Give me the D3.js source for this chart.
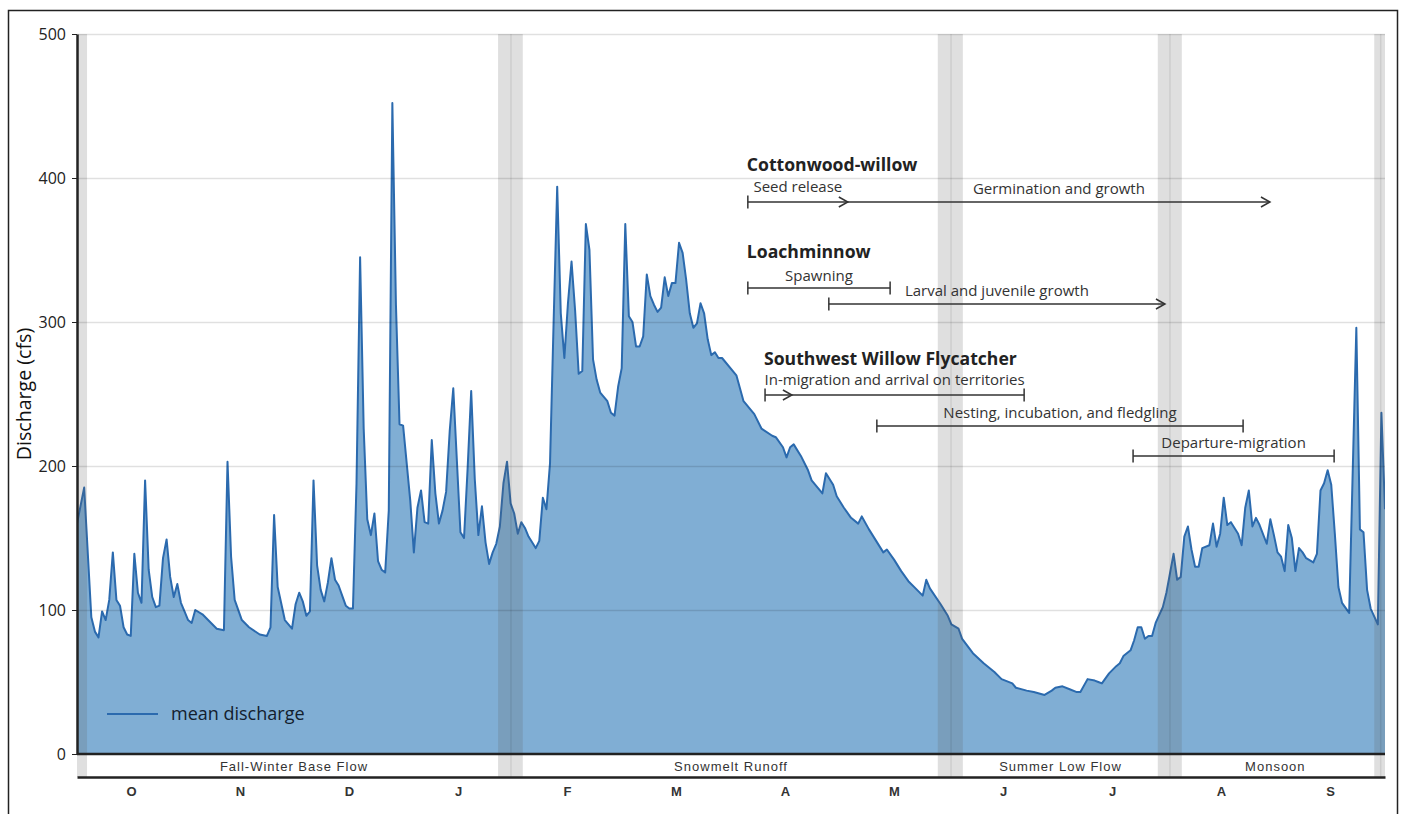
<!DOCTYPE html>
<html>
<head>
<meta charset="utf-8">
<script src="https://cdn.jsdelivr.net/npm/d3@7"></script>
<style>
  body { margin: 0; background: #fff; }
  svg { display: block; font-family: 'Open Sans', sans-serif; }
  .axis--y path, .axis--y line { stroke: #222; }
  .axis--y path { stroke-width: 2.5; }
  .axis--y text { font-size: 16px; fill: #222; font-family: 'Open Sans', sans-serif; }
  .axis--month path { stroke: #222; stroke-width: 2.5; }
  .axis--month text { font-family: 'Liberation Sans', Arial, sans-serif; font-weight: bold; font-size: 13px; fill: #333; }
  .grid line { stroke: rgba(0, 0, 0, 0.12); stroke-width: 1.5; }
  .grid path { display: none; }
  .season { font-family: 'Liberation Sans', Arial, sans-serif; font-size: 13px; letter-spacing: 1px; fill: #333; }
  .species { font-size: 17.6px; font-weight: bold; fill: #222; }
  .phase-label { font-size: 15px; fill: #333; }
  .phase line, .phase path { stroke: #333; stroke-width: 1.5; fill: none; }
</style>
</head>
<body>
<svg width="1401" height="814"></svg>
<script>
// day of the water year (0 = Oct 1) and mean daily discharge (cfs)
const DAYS = [
  0, 2, 4, 5, 6, 7, 8, 9, 10, 11, 12, 13, 14, 15, 16, 17, 18, 19, 20, 21, 22, 23, 24, 25, 26, 27, 28, 29, 30,
  31, 32, 33, 35, 37, 39, 41, 42, 43, 44, 46, 48, 51, 53, 54, 55, 56, 58, 60,
  61, 62, 63, 64, 65, 66, 67, 68, 69, 70, 71, 72, 73, 74, 75, 76, 77, 78, 79, 80, 81, 82, 83, 84, 85, 86, 87, 88, 89, 90, 91,
  93, 94, 95, 96, 97, 98, 99, 100, 101, 102, 103, 104, 105, 106, 107, 108, 109, 110, 111, 112, 113, 114, 115, 116, 117, 118, 119, 120, 121, 122,
  123, 124, 125, 126, 128, 129, 130, 131, 132, 133, 134, 135, 136, 137, 138, 139, 140, 141, 142, 143, 144, 145, 146, 148, 149, 150,
  151, 152, 153, 154, 155, 156, 157, 158, 159, 160, 161, 162, 163, 164, 165, 166, 167, 168, 169, 170, 171, 172, 173, 174, 175, 176, 177, 178, 179, 180,
  184, 186, 189, 191, 194, 195, 197, 198, 199, 200, 202, 204, 205, 208, 209, 211,
  212, 214, 216, 218, 219, 221, 223, 225, 226, 228, 230, 232, 234, 236, 237, 238, 241, 243, 244, 246, 247, 250, 253, 256, 258, 261, 262, 265, 267, 270, 272,
  273, 275, 277, 279, 280, 282, 284, 285, 286, 288, 290, 291, 292, 294, 295, 296, 297, 298, 299, 300, 301, 303,
  304, 306, 307, 308, 309, 310, 311, 312, 313, 314, 316, 317, 318, 319, 320, 321, 322, 323, 324, 325, 326, 327, 328, 329, 330, 332, 333, 334,
  335, 336, 337, 338, 339, 340, 341, 342, 343, 345, 346, 347, 348, 349, 350, 351, 352, 353, 355, 357, 358, 359, 360, 361, 363, 364, 365
];
const DISCHARGE = [
  160, 185, 95, 85, 81, 99, 93, 107, 140, 107, 103, 88, 83, 82, 139, 112, 105, 190, 128, 109, 102, 103, 136, 149, 123, 109, 118, 105, 99,
  93, 91, 100, 97, 92, 87, 86, 203, 137, 107, 93, 88, 83, 82, 88, 166, 116, 93, 87,
  104, 112, 106, 96, 99, 190, 131, 114, 106, 119, 136, 121, 117, 110, 103, 101, 101, 188, 345, 226, 163, 152, 167, 134, 128, 126, 169, 452, 312, 229, 228,
  176, 140, 171, 183, 161, 160, 218, 181, 160, 169, 182, 224, 254, 204, 154, 150, 198, 252, 191, 152, 172, 147, 132, 140, 146, 158, 188, 203, 174, 167,
  153, 161, 157, 151, 143, 148, 178, 170, 202, 300, 394, 306, 275, 313, 342, 308, 264, 266, 368, 350, 274, 260, 251, 245, 237, 235,
  255, 268, 368, 304, 300, 283, 283, 290, 333, 318, 312, 307, 310, 331, 318, 327, 327, 355, 348, 329, 306, 296, 299, 313, 306, 288, 277, 279, 275, 275,
  263, 245, 236, 226, 221, 220, 213, 206, 213, 215, 207, 197, 190, 181, 195, 187,
  179, 171, 164, 160, 165, 156, 148, 140, 142, 135, 127, 120, 115, 110, 121, 115, 104, 96, 90, 87, 80, 70, 63, 57, 52, 49, 46, 44, 43, 41, 44,
  46, 47, 45, 43, 43, 52, 51, 50, 49, 56, 61, 63, 68, 72, 79, 88, 88, 80, 82, 82, 91, 102,
  112, 139, 121, 123, 151, 158, 142, 130, 130, 143, 145, 160, 144, 153, 178, 159, 161, 157, 153, 145, 171, 183, 158, 164, 159, 146, 163, 152,
  140, 137, 127, 159, 150, 127, 143, 140, 136, 133, 139, 183, 188, 197, 187, 153, 116, 105, 98, 296, 156, 154, 114, 101, 90, 237, 170
];

const Y_TICKS = [0, 100, 200, 300, 400, 500];
const MONTH_LABELS = ['O', 'N', 'D', 'J', 'F', 'M', 'A', 'M', 'J', 'J', 'A', 'S'];

const SEASONS = ['Fall-Winter Base Flow', 'Snowmelt Runoff', 'Summer Low Flow', 'Monsoon'];
const SEASON_BOUNDS = [0, 121.1, 243.9, 305, 363.8];
// shaded transition periods [start day, end day]
const TRANSITIONS = [[0, 2.8], [117.5, 124.4], [240.2, 247.2], [301.6, 308.3], [362, 365]];

const SPECIES = ['Cottonwood-willow', 'Loachminnow', 'Southwest Willow Flycatcher'];
const PHASE_LABELS = ['Seed release', 'Germination and growth', 'Spawning', 'Larval and juvenile growth',
  'In-migration and arrival on territories', 'Nesting, incubation, and fledgling', 'Departure-migration'];
const PHASE_SPECIES = [0, 0, 1, 1, 2, 2, 2];
const PHASE_START = [187.2, 215.1, 187.2, 209.8, 192, 223.2, 294.7];
const PHASE_END = [215.1, 332.9, 226.9, 303.6, 264.3, 325.4, 350.8];
const PHASE_START_CAP = ['bar', 'none', 'bar', 'bar', 'bar', 'bar', 'bar'];
const PHASE_END_CAP = ['arrow', 'arrow', 'bar', 'arrow', 'bar', 'bar', 'bar'];
const PHASE_ARRIVAL = [null, null, null, null, 199.5, null, null];

const margin = {top: 34, right: 16, bottom: 60, left: 77};
const svg = d3.select('svg');
const width = +svg.attr('width') - margin.left - margin.right;
const height = 754 - margin.top;
const seasonRow = 23;
const g = svg.append('g').attr('transform', 'translate(' + margin.left + ',' + margin.top + ')');

const x = d3.scaleLinear().domain([0, 365]).range([0, width]);
const xMonth = d3.scaleBand().domain(d3.range(12)).range([0, width]);
const y = d3.scaleLinear().domain([0, 500]).range([height, 0]);

const series = DAYS.map((d, i) => ({day: d, value: DISCHARGE[i]}));

// frame
svg.append('rect')
  .attr('x', 8.5).attr('y', 10.5).attr('width', 1389).attr('height', 820)
  .attr('fill', 'none').attr('stroke', '#222').attr('stroke-width', 1.5);

g.append('clipPath').attr('id', 'plot-clip')
  .append('rect').attr('width', width).attr('height', height + seasonRow);

// discharge area + line
const plot = g.append('g').attr('clip-path', 'url(#plot-clip)');
plot.append('path')
  .datum(series)
  .attr('fill', '#80aed4')
  .attr('d', d3.area().x(d => x(d.day)).y0(y(0)).y1(d => y(d.value)));

g.append('g')
  .attr('class', 'grid')
  .call(d3.axisLeft(y).tickValues(Y_TICKS.slice(1)).tickSize(-width).tickFormat(''));

plot.append('path')
  .datum(series)
  .attr('fill', 'none')
  .attr('stroke', '#2b6aae')
  .attr('stroke-width', 2)
  .attr('stroke-linejoin', 'round')
  .attr('d', d3.line().x(d => x(d.day)).y(d => y(d.value)));

// transition bands
plot.selectAll('.band')
  .data(TRANSITIONS)
  .enter().append('rect')
  .attr('class', 'band')
  .attr('x', d => x(d[0]))
  .attr('width', d => x(d[1]) - x(d[0]))
  .attr('y', 0)
  .attr('height', height + seasonRow)
  .attr('fill', 'rgba(95, 95, 95, 0.2)');

plot.selectAll('.boundary')
  .data(SEASON_BOUNDS.slice(1))
  .enter().append('line')
  .attr('class', 'boundary')
  .attr('x1', d => x(d)).attr('x2', d => x(d))
  .attr('y1', 0).attr('y2', height + seasonRow)
  .attr('stroke', 'rgba(0, 0, 0, 0.08)')
  .attr('stroke-width', 1.5);

// axes
g.append('g')
  .attr('class', 'axis axis--y')
  .call(d3.axisLeft(y).tickValues(Y_TICKS).tickSize(5).tickSizeOuter(0).tickPadding(6));

g.append('line')
  .attr('x1', 0).attr('x2', width)
  .attr('y1', height).attr('y2', height)
  .attr('stroke', '#222').attr('stroke-width', 2.5);

g.append('g')
  .attr('class', 'axis axis--month')
  .attr('transform', 'translate(0,' + (height + seasonRow) + ')')
  .call(d3.axisBottom(xMonth).tickSize(0).tickSizeOuter(0).tickPadding(10).tickFormat(i => MONTH_LABELS[i]));

g.selectAll('.season')
  .data(SEASONS)
  .enter().append('text')
  .attr('class', 'season')
  .attr('x', (d, i) => (x(SEASON_BOUNDS[i]) + x(SEASON_BOUNDS[i + 1])) / 2)
  .attr('y', height + 17)
  .attr('text-anchor', 'middle')
  .text(d => d);

svg.append('text')
  .attr('transform', 'translate(31,394) rotate(-90)')
  .attr('text-anchor', 'middle')
  .attr('font-size', 19.6)
  .attr('fill', '#111')
  .text('Discharge (cfs)');

// legend
svg.append('line')
  .attr('x1', 107).attr('x2', 158).attr('y1', 714).attr('y2', 714)
  .attr('stroke', '#2b6aae').attr('stroke-width', 2);
svg.append('text')
  .attr('x', 171).attr('y', 720)
  .attr('font-size', 18)
  .attr('fill', '#13202e')
  .text('mean discharge');

// life-history annotations
const titleY = [171, 258, 365];
const lineY = [202, 202, 288, 304, 395, 426, 456];
const labelGap = [10, 8, 7, 8, 10, 8, 8];

g.selectAll('.species')
  .data(SPECIES)
  .enter().append('text')
  .attr('class', 'species')
  .attr('x', (d, i) => x(d3.min(PHASE_START.filter((s, j) => PHASE_SPECIES[j] === i))) - 1)
  .attr('y', (d, i) => titleY[i] - margin.top)
  .text(d => d);

const chevron = (cx, cy) => 'M' + (cx - 9) + ',' + (cy - 5) + 'L' + cx + ',' + cy + 'L' + (cx - 9) + ',' + (cy + 5);
const bar = (cx, cy) => 'M' + cx + ',' + (cy - 6.5) + 'L' + cx + ',' + (cy + 6.5);

PHASE_LABELS.forEach((label, i) => {
  const ly = lineY[i] - margin.top;
  const x0 = x(PHASE_START[i]);
  const x1 = x(PHASE_END[i]);
  const ph = g.append('g').attr('class', 'phase');
  ph.append('line').attr('x1', x0).attr('x2', x1).attr('y1', ly).attr('y2', ly);
  if (PHASE_START_CAP[i] === 'bar') ph.append('path').attr('d', bar(x0, ly));
  if (PHASE_END_CAP[i] === 'bar') ph.append('path').attr('d', bar(x1, ly));
  if (PHASE_END_CAP[i] === 'arrow') ph.append('path').attr('d', chevron(x1, ly));
  if (PHASE_ARRIVAL[i] !== null) ph.append('path').attr('d', chevron(x(PHASE_ARRIVAL[i]), ly));
  g.append('text')
    .attr('class', 'phase-label')
    .attr('x', (x0 + x1) / 2)
    .attr('y', ly - labelGap[i])
    .attr('text-anchor', 'middle')
    .text(label);
});
</script>
</body>
</html>
